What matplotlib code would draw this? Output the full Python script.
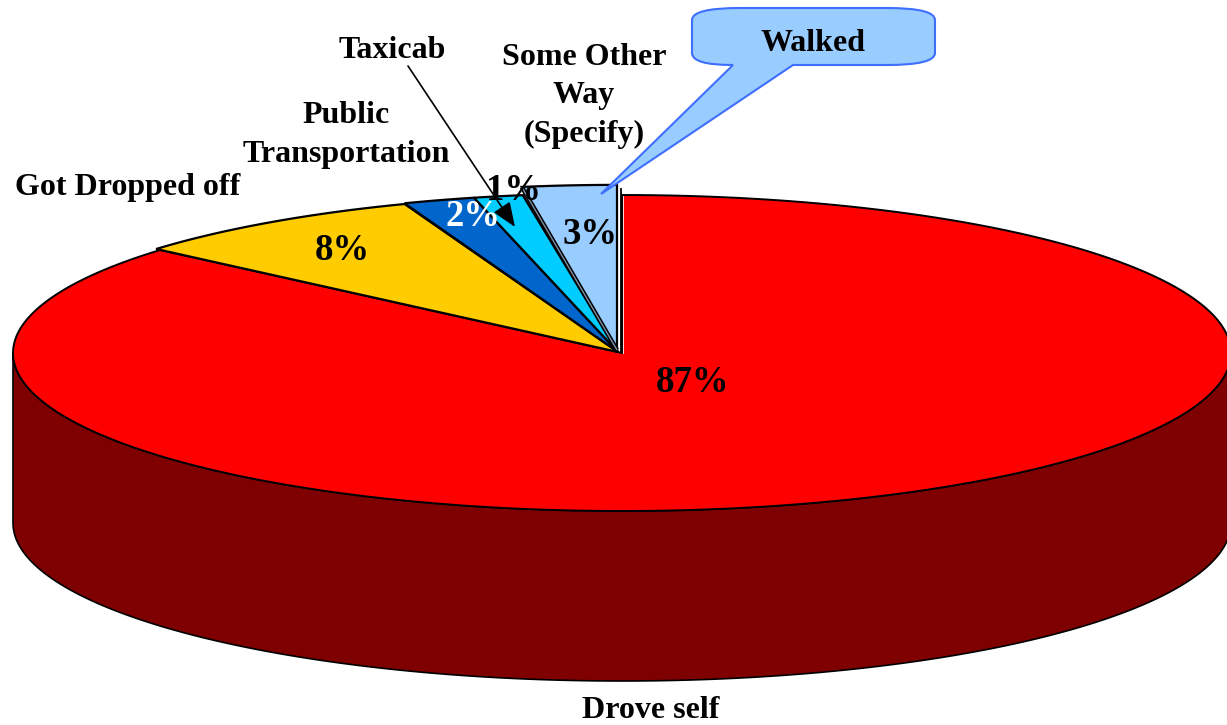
import numpy as np
import matplotlib
matplotlib.use("Agg")
import matplotlib.pyplot as plt
from matplotlib.patches import Polygon, PathPatch
from matplotlib.path import Path

plt.rcParams['font.family'] = ['Liberation Serif', 'DejaVu Serif']

categories = ["Drove self", "Got Dropped off", "Public\nTransportation", "Taxicab",
              "Some Other\nWay\n(Specify)", "Walked"]
# Slices drawn clockwise from 12 o'clock; shares
slice_names = ["Drove self", "Got Dropped off", "Public Transportation", "Taxicab", "Walked"]
slice_shares = [86.3, 8.0, 1.9, 1.3, 2.5]
slice_labels = ["87%", "8%", "2%", "1%", "3%"]
slice_colors = ["#FF0000", "#FFCC00", "#0066CC", "#00CCFF", "#99CCFF"]
wall_color = "#7F0000"

RX, RY, DEPTH = 609, 158, 170
centers = [(622, 353), (618, 352), (618, 352), (618, 352), (617, 350)]
ry_scale = [1.0, 1.0, 1.005, 1.005, 1.045]
label_xy = [(693, 382), (342, 250), (473, 216), (514, 190), (590, 234)]
label_color = ["black", "black", "white", "black", "black"]

fig = plt.figure(figsize=(12.27, 7.25), dpi=100)
ax = fig.add_axes([0, 0, 1, 1])
ax.set_xlim(0, 1227)
ax.set_ylim(725, 0)
ax.axis("off")


def arc(start, end, cx, cy, rys=1.0, n=200):
    t = np.radians(np.linspace(start, end, n))
    return np.column_stack([cx + RX * np.sin(t), cy - RY * rys * np.cos(t)])


# slice angles: clockwise from the top, red ends on the far left
bounds = np.concatenate([[0], np.cumsum(slice_shares)]) / sum(slice_shares) * 360

# side wall of the large slice
cx0, cy0 = centers[0]
front = arc(90, 270, cx0, cy0)
wall = np.vstack([front, (front + [0, DEPTH])[::-1]])
ax.add_patch(Polygon(wall, closed=True, fc=wall_color, ec="black", lw=1.2, zorder=1))

# top faces
for i in range(len(slice_shares)):
    cx, cy = centers[i]
    pts = np.vstack([[cx, cy], arc(bounds[i], bounds[i + 1], cx, cy, ry_scale[i])])
    lw = 1.6 if i else 1.4
    ax.add_patch(Polygon(pts, closed=True, fc=slice_colors[i], ec="black", lw=lw,
                         joinstyle="miter", zorder=2 + i))

# grey side face of the pulled-out slice and the vertical cut of the red slice
cx, cy = centers[4]
edge = arc(bounds[4], bounds[4] + 0.01, cx, cy, ry_scale[4], n=1)[0]
ax.plot([cx, edge[0]], [cy, edge[1]], color="black", lw=3.2, zorder=6, solid_capstyle="butt")
ax.plot([cx, edge[0]], [cy, edge[1]], color="#7F8FA8", lw=1.0, zorder=7, solid_capstyle="butt")
ax.plot([cx0 - 0.8, cx0 - 0.8], [cy0 - 1, cy0 - RY - 6], color="black", lw=1.3, zorder=8)
ax.plot([cx0 + 0.5, cx0 + 0.5], [cy0, cy0 - RY + 1], color="white", lw=0.6, zorder=8)

# percent labels
for (x, y), s, c in zip(label_xy, slice_labels, label_color):
    ax.text(x, y, s, ha="center", va="center", fontsize=26.5, fontweight="bold", color=c, zorder=12)

# category labels
FS = 23
ax.text(392, 50, categories[3], ha="center", va="center", fontsize=FS, fontweight="bold", zorder=12)
ax.text(584, 96, categories[4], ha="center", va="center", fontsize=FS,
        fontweight="bold", linespacing=1.42, zorder=12)
ax.text(346, 135, categories[2], ha="center", va="center", fontsize=FS,
        fontweight="bold", linespacing=1.42, zorder=12)
ax.text(15, 187, categories[1], ha="left", va="center", fontsize=FS, fontweight="bold", zorder=12)
ax.text(651, 718, categories[0], ha="center", va="baseline", fontsize=FS, fontweight="bold", zorder=12)

# Taxicab leader
ax.annotate("", xy=(515, 227), xytext=(408, 66),
            arrowprops=dict(arrowstyle="-|>,head_length=1.5,head_width=0.6", color="black", lw=1.2,
                            shrinkA=0, shrinkB=0), zorder=11)

# Walked callout
L, R, T, B, cxr, cyr = 692, 935, 8, 65, 48, 12
verts = [(L + cxr, T), (R - cxr, T), (R, T), (R, T + cyr), (R, B - cyr), (R, B), (R - cxr, B),
         (793, B), (601, 194), (733, B), (L + cxr - 8, B), (L, B), (L, B - cyr), (L, T + cyr), (L, T),
         (L + cxr, T)]
codes = [Path.MOVETO, Path.LINETO, Path.CURVE3, Path.CURVE3, Path.LINETO, Path.CURVE3, Path.CURVE3,
         Path.LINETO, Path.LINETO, Path.LINETO, Path.LINETO, Path.CURVE3, Path.CURVE3, Path.LINETO,
         Path.CURVE3, Path.CURVE3]
ax.add_patch(PathPatch(Path(verts, codes), fc="#99CCFF", ec="#3F6FFF", lw=1.5, zorder=10))
ax.text(813, 43, categories[5], ha="center", va="center", fontsize=FS, fontweight="bold", zorder=12)

fig.savefig("out.png", dpi=100)
